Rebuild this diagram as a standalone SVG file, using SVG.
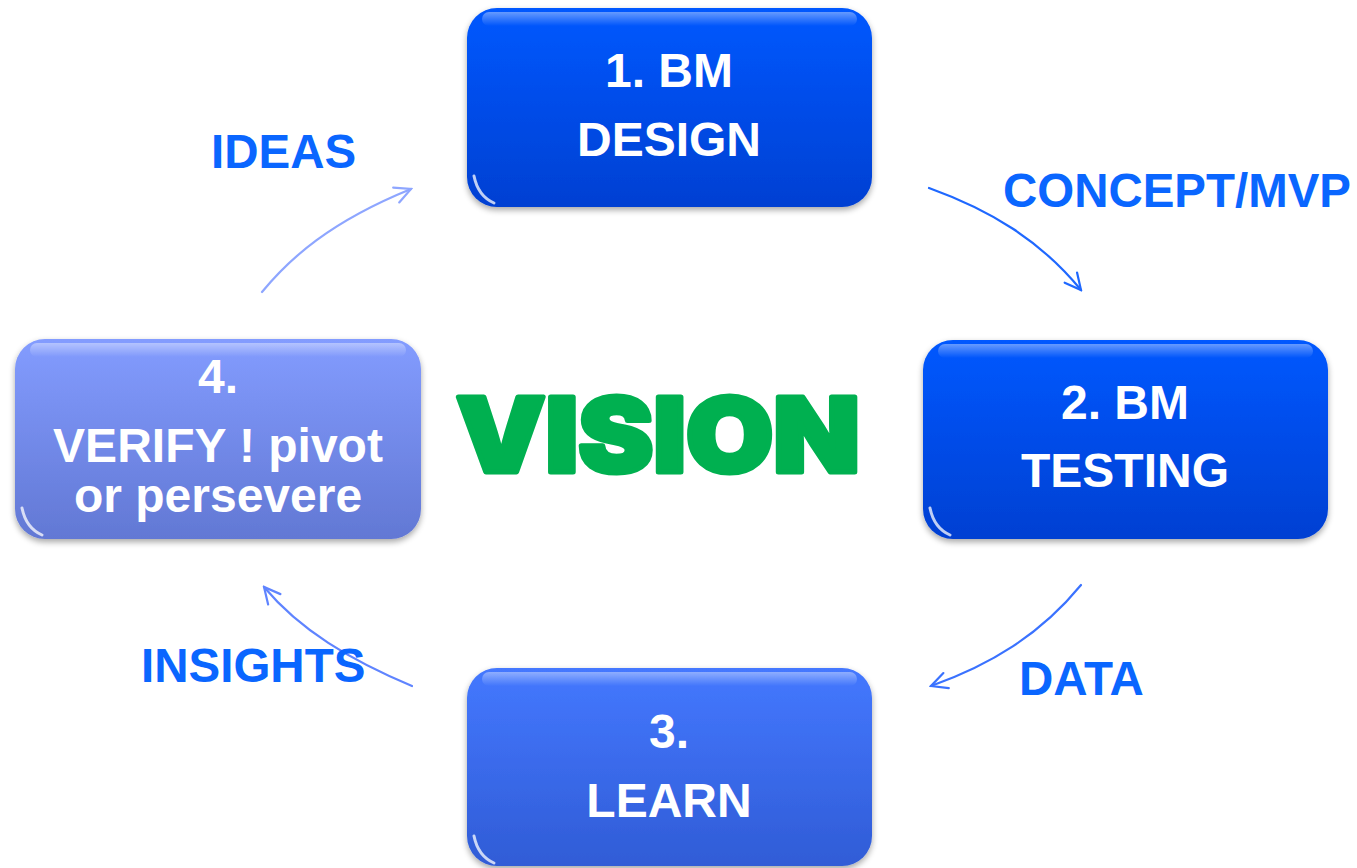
<svg xmlns="http://www.w3.org/2000/svg" width="1357" height="868" viewBox="0 0 1357 868">
  <defs>
    <linearGradient id="gDark" x1="0" y1="0" x2="0" y2="1">
      <stop offset="0" stop-color="#0058ff"/>
      <stop offset="1" stop-color="#0040d2"/>
    </linearGradient>
    <linearGradient id="gMid" x1="0" y1="0" x2="0" y2="1">
      <stop offset="0" stop-color="#4478ff"/>
      <stop offset="1" stop-color="#305cd6"/>
    </linearGradient>
    <linearGradient id="gLight" x1="0" y1="0" x2="0" y2="1">
      <stop offset="0" stop-color="#839cff"/>
      <stop offset="1" stop-color="#6278d4"/>
    </linearGradient>
    <linearGradient id="gShine" x1="0" y1="0" x2="0" y2="1">
      <stop offset="0" stop-color="#ffffff" stop-opacity="0.4"/>
      <stop offset="1" stop-color="#ffffff" stop-opacity="0"/>
    </linearGradient>
    <filter id="shadow" x="-10%" y="-10%" width="120%" height="125%">
      <feGaussianBlur in="SourceAlpha" stdDeviation="3"/>
      <feOffset dx="0" dy="3"/>
      <feComponentTransfer><feFuncA type="linear" slope="0.35"/></feComponentTransfer>
      <feMerge><feMergeNode/><feMergeNode in="SourceGraphic"/></feMerge>
    </filter>
    <marker id="head" viewBox="0 0 20 20" refX="18" refY="10" markerWidth="20" markerHeight="20" markerUnits="userSpaceOnUse" orient="auto">
      <path d="M2,2 L18,10 L2,18" fill="none" stroke="context-stroke" stroke-width="2.2" stroke-linecap="round"/>
    </marker>
    <style>
      .box { filter: url(#shadow); }
      .shine { fill: url(#gShine); }
      .glint { fill: none; stroke: #ffffff; stroke-opacity: 0.75; stroke-width: 3; stroke-linecap: round; }
      .ntext { font-family: "Liberation Sans", Arial, sans-serif; font-weight: bold; fill: #ffffff; text-anchor: middle; font-size: 48px; }
      .lbl { font-family: "Liberation Sans", Arial, sans-serif; font-weight: bold; fill: #0a66ff; font-size: 47.5px; }
      .arc { fill: none; stroke-width: 2.2; stroke-linecap: round; }
    </style>
  </defs>

  <rect width="1357" height="868" fill="#ffffff"/>

  <!-- step 1 -->
  <g id="node-design">
    <rect class="box" x="467" y="8" width="405" height="199" rx="30" fill="url(#gDark)"/>
    <rect class="shine" x="482" y="12" width="375" height="14" rx="7"/>
    <path class="glint" d="M474,176 Q478,196 494,203"/>
    <text class="ntext" x="669" y="87">1. BM</text>
    <text class="ntext" x="669" y="156">DESIGN</text>
  </g>

  <!-- step 2 -->
  <g id="node-testing">
    <rect class="box" x="923" y="340" width="405" height="199" rx="30" fill="url(#gDark)"/>
    <rect class="shine" x="938" y="344" width="375" height="14" rx="7"/>
    <path class="glint" d="M930,508 Q934,528 950,535"/>
    <text class="ntext" x="1125" y="419">2. BM</text>
    <text class="ntext" x="1125" y="487">TESTING</text>
  </g>

  <!-- step 3 -->
  <g id="node-learn">
    <rect class="box" x="467" y="668" width="405" height="198" rx="30" fill="url(#gMid)"/>
    <rect class="shine" x="482" y="672" width="375" height="14" rx="7"/>
    <path class="glint" d="M474,836 Q478,856 494,863"/>
    <text class="ntext" x="669" y="748">3.</text>
    <text class="ntext" x="669" y="817">LEARN</text>
  </g>

  <!-- step 4 -->
  <g id="node-verify">
    <rect class="box" x="15" y="339" width="406" height="200" rx="30" fill="url(#gLight)"/>
    <rect class="shine" x="30" y="343" width="376" height="14" rx="7"/>
    <path class="glint" d="M22,508 Q26,528 42,535"/>
    <text class="ntext" x="218" y="393">4.</text>
    <text class="ntext" x="218" y="462">VERIFY ! pivot</text>
    <text class="ntext" x="218" y="512">or persevere</text>
  </g>

  <!-- centre word -->
  <g id="vision">
    <text x="456" y="472" font-family="Inter, Lato, sans-serif" font-weight="900" font-size="103" fill="#00b050" stroke="#00b050" stroke-width="5" stroke-linejoin="round" textLength="404" lengthAdjust="spacingAndGlyphs">VISION</text>
  </g>

  <!-- cycle arrows -->
  <g id="connectors">
    <path class="arc" stroke="#8ea6ff" d="M262,292 C290,258 330,222 411,189" marker-end="url(#head)"/>
    <path class="arc" stroke="#1f68ff" d="M929,188 C990,210 1040,240 1081,290" marker-end="url(#head)"/>
    <path class="arc" stroke="#3a72ff" d="M1081,585 C1040,635 990,665 931,686" marker-end="url(#head)"/>
    <path class="arc" stroke="#5f84ff" d="M412,686 C350,660 300,630 264,587" marker-end="url(#head)"/>
  </g>

  <!-- connector labels -->
  <g id="labels">
    <text class="lbl" x="211" y="168">IDEAS</text>
    <text class="lbl" x="1003" y="207" textLength="348" lengthAdjust="spacingAndGlyphs">CONCEPT/MVP</text>
    <text class="lbl" x="1019" y="695">DATA</text>
    <text class="lbl" x="141" y="682">INSIGHTS</text>
  </g>
</svg>
